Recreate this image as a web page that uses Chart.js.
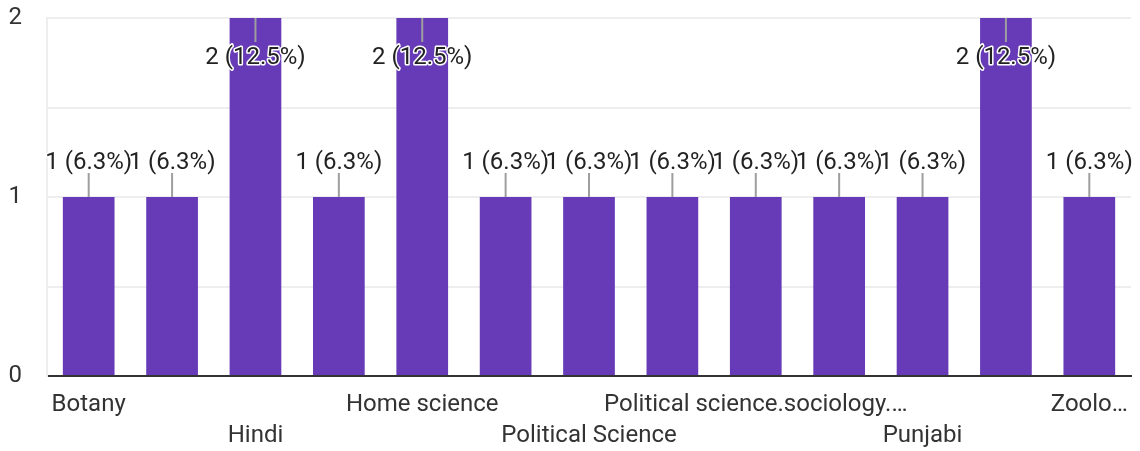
<!DOCTYPE html>
<html>
<head>
<meta charset="utf-8">
<script src="https://cdn.jsdelivr.net/npm/chart.js@4/dist/chart.umd.min.js"></script>
<style>
    html, body { margin: 0; padding: 0; background: #fff; }
    #wrap { width: 1140px; height: 451px; }
</style>
</head>
<body>
<div id="wrap"><canvas id="myBarChart"></canvas></div>
<script>
// Data for the bar chart (odd categories are not labelled in the picture)
const categories = ['Botany', '', 'Hindi', '', 'Home science', '', 'Political Science', '',
    'Political science.sociology.…', '', 'Punjabi', '', 'Zoolo…'];
const counts = [1, 1, 2, 1, 2, 1, 1, 1, 1, 1, 1, 2, 1];
const yTicks = [0, 1, 2];

const total = counts.reduce((a, b) => a + b, 0);

// Value labels with a short leader line and a white halo
const valueLabels = {
    id: 'valueLabels',
    afterDatasetsDraw(chart) {
        const ctx = chart.ctx;
        const top = chart.chartArea.top;
        chart.getDatasetMeta(0).data.forEach((bar, i) => {
            const v = counts[i];
            const text = v + ' (' + (v / total * 100).toFixed(1) + '%)';
            const inside = bar.y - top < 60;
            const dir = inside ? 1 : -1;
            ctx.save();
            ctx.strokeStyle = '#9e9e9e';
            ctx.lineWidth = 2;
            ctx.beginPath();
            ctx.moveTo(bar.x, bar.y);
            ctx.lineTo(bar.x, bar.y + dir * 24);
            ctx.stroke();
            ctx.font = '24px Roboto';
            ctx.textAlign = 'center';
            ctx.textBaseline = 'middle';
            ctx.lineJoin = 'round';
            ctx.lineWidth = 3;
            ctx.strokeStyle = '#fff';
            const ty = inside ? bar.y + 40 : bar.y - 34;
            ctx.strokeText(text, bar.x, ty);
            ctx.fillStyle = '#222';
            ctx.fillText(text, bar.x, ty);
            ctx.restore();
        });
    }
};

window.onload = function() {
    const ctx = document.getElementById('myBarChart').getContext('2d');
    new Chart(ctx, {
        type: 'bar',
        data: {
            labels: categories,
            datasets: [{
                data: counts,
                backgroundColor: '#673ab7',
                categoryPercentage: 1,
                barPercentage: 0.62
            }]
        },
        options: {
            responsive: true,
            maintainAspectRatio: false,
            animation: false,
            layout: { padding: { top: 18, right: 9, left: 0, bottom: 0 } },
            plugins: {
                legend: { display: false },
                tooltip: { enabled: false }
            },
            scales: {
                x: {
                    grid: {
                        drawTicks: false,
                        lineWidth: 2,
                        color: c => (c.index === 0 || c.index === categories.length) ? '#eeeeee' : 'rgba(0,0,0,0)'
                    },
                    border: { color: '#333', width: 2 },
                    ticks: {
                        autoSkip: false,
                        maxRotation: 0,
                        padding: 13,
                        color: '#333',
                        font: { family: 'Roboto', size: 24, lineHeight: 1.3 },
                        callback: function(value, index) {
                            if (index % 2) return '';
                            const label = this.getLabelForValue(value);
                            return index % 4 === 2 ? ['', label] : label;
                        }
                    },
                    afterFit: scale => {
                        scale.height = 75;
                        scale.paddingLeft = 0;
                        scale.paddingRight = 0;
                    }
                },
                y: {
                    min: 0,
                    max: 2,
                    grid: { drawTicks: false, color: '#eeeeee', lineWidth: 2 },
                    border: { color: '#eeeeee', width: 2 },
                    ticks: {
                        stepSize: 0.5,
                        padding: 25,
                        color: '#333',
                        font: { family: 'Roboto', size: 24 },
                        callback: v => yTicks.includes(v) ? v : ''
                    },
                    afterFit: scale => {
                        scale.width = 47;
                        scale.paddingTop = 0;
                        scale.paddingBottom = 0;
                    }
                }
            }
        },
        plugins: [valueLabels]
    });
};
</script>
</body>
</html>
